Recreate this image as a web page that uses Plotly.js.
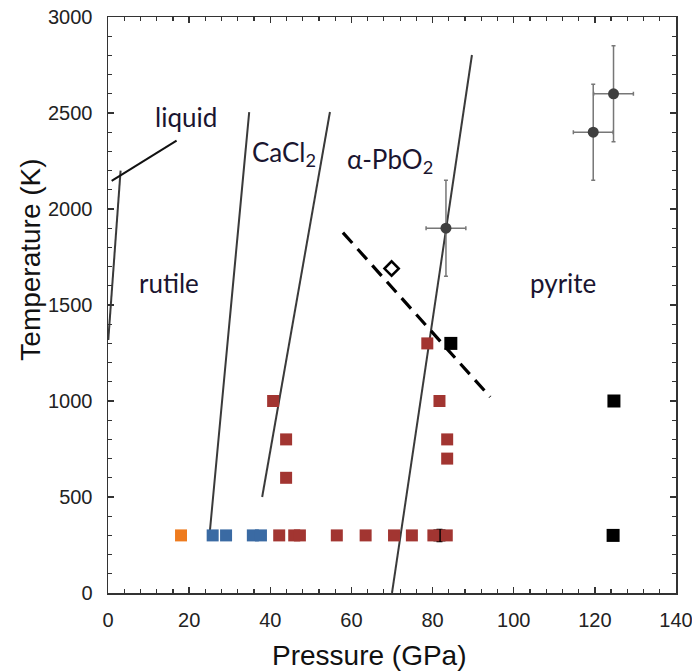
<!DOCTYPE html>
<html>
<head>
<meta charset="utf-8">
<script src="https://cdn.plot.ly/plotly-3.0.1.min.js"></script>
<style>html,body{margin:0;padding:0;background:#fff;}#chart{width:692px;height:671px;}</style>
</head>
<body>
<div id="chart"></div>
<script>
// Data (Pressure GPa, Temperature K)
const redP = [42.2, 45.9, 47.3, 56.4, 63.5, 70.5, 74.9, 80.2, 83.5, 40.7, 43.9, 43.9, 78.7, 81.7, 83.6, 83.6];
const redT = [300, 300, 300, 300, 300, 300, 300, 300, 300, 1000, 800, 600, 1300, 1000, 800, 700];
const blueP = [25.8, 29.1, 35.7, 37.7];
const blueT = [300, 300, 300, 300];
const orangeP = [18.0];
const orangeT = [300];
const blackP = [84.5, 124.7, 124.5];
const blackT = [1300, 1000, 300];
const hiddenP = [81.7];
const hiddenT = [300];
const hiddenErrT = [30];
const circP = [83.3, 119.6, 124.6];
const circT = [1900, 2400, 2600];
const circErrP = [4.9, 4.9, 4.9];
const circErrT = [250, 250, 250];
const diamP = [69.9];
const diamT = [1690];

// Phase boundaries
const meltP = [0.07, 3.1];
const meltT = [1318, 2200];
const liqLabelP = [0.9, 16.9];
const liqLabelT = [2146, 2356];
const rutCaP = [25.1, 34.8];
const rutCaT = [319, 2505];
const caPbP = [38.0, 54.7];
const caPbT = [500, 2505];
const pbPyP = [70.0, 89.7];
const pbPyT = [0, 2802];
const dashP = [57.9, 94.2];
const dashT = [1877, 1021];

// Region labels
const labelText = ['liquid', 'CaCl<sub>2</sub>', 'α-PbO<sub>2</sub>', 'rutile', 'pyrite'];
const labelP = [19.2, 43.3, 69.5, 15.0, 112.2];
const labelT = [2480, 2290, 2255, 1615, 1615];

const lineStyle = {color: '#3a3a3a', width: 2};
const traces = [
  {x: meltP, y: meltT, mode: 'lines', line: lineStyle},
  {x: liqLabelP, y: liqLabelT, mode: 'lines', line: {color: '#111', width: 2}},
  {x: rutCaP, y: rutCaT, mode: 'lines', line: lineStyle},
  {x: caPbP, y: caPbT, mode: 'lines', line: lineStyle},
  {x: pbPyP, y: pbPyT, mode: 'lines', line: lineStyle},
  {x: dashP, y: dashT, mode: 'lines', line: {color: '#000', width: 3.2, dash: '14px,8px'}},
  {x: hiddenP, y: hiddenT, mode: 'markers', marker: {size: 12, color: '#000', symbol: 'square'},
   error_y: {type: 'data', array: hiddenErrT, color: '#000', thickness: 2, width: 3}},
  {x: orangeP, y: orangeT, mode: 'markers', marker: {size: 12, color: '#EE7B1E', symbol: 'square'}},
  {x: blueP, y: blueT, mode: 'markers', marker: {size: 12, color: '#3A6AA3', symbol: 'square'}},
  {x: redP, y: redT, mode: 'markers', marker: {size: 12, color: '#A23531', symbol: 'square'}},
  {x: blackP, y: blackT, mode: 'markers', marker: {size: 13, color: '#000', symbol: 'square'}},
  {x: circP, y: circT, mode: 'markers', marker: {size: 11, color: '#3f3f3f', symbol: 'circle'},
   error_x: {type: 'data', array: circErrP, color: '#777', thickness: 1.5, width: 2},
   error_y: {type: 'data', array: circErrT, color: '#777', thickness: 1.5, width: 2}},
  {x: diamP, y: diamT, mode: 'markers', marker: {size: 11, color: '#fff', symbol: 'diamond', line: {color: '#000', width: 2.5}}}
];
traces.forEach(t => { t.showlegend = false; t.hoverinfo = 'skip'; });

const titleFont = {family: '"Liberation Sans", Arial, sans-serif', size: 28, color: '#111'};
const annotations = labelText.map((t, i) => ({
  x: labelP[i], y: labelT[i], xref: 'x', yref: 'y', text: t, showarrow: false,
  font: {family: 'Lato, "Open Sans", sans-serif', size: 26, color: '#1a1530'}
}));
annotations.push({text: 'Pressure (GPa)', xref: 'paper', yref: 'paper', x: 0.46, y: -0.108,
  xanchor: 'center', yanchor: 'middle', showarrow: false, font: titleFont});
annotations.push({text: 'Temperature (K)', xref: 'paper', yref: 'paper', x: -0.138, y: 0.578,
  xanchor: 'center', yanchor: 'middle', textangle: -90, showarrow: false, font: titleFont});

const axisCommon = {
  showline: true, linecolor: '#333', linewidth: 1.5, mirror: 'ticks',
  ticks: 'inside', ticklen: 6, tickcolor: '#333', tickwidth: 1.5,
  showgrid: false, zeroline: false, fixedrange: true, automargin: false,
  ticklabeloverflow: 'allow',
  tickfont: {family: '"Liberation Sans", Arial, sans-serif', size: 20, color: '#222'}
};

const layout = {
  width: 692, height: 671,
  margin: {l: 108, r: 16, t: 17, b: 78},
  paper_bgcolor: '#fff', plot_bgcolor: '#fff',
  xaxis: Object.assign({}, axisCommon, {
    range: [0, 140], tick0: 0, dtick: 20, ticklabelstandoff: 8,
    minor: {ticks: 'inside', dtick: 4, ticklen: 4, tickcolor: '#333', tickwidth: 1.2, showgrid: false}
  }),
  yaxis: Object.assign({}, axisCommon, {
    range: [0, 3000], tick0: 0, dtick: 500, ticklabelstandoff: 10,
    minor: {ticks: 'inside', dtick: 100, ticklen: 4, tickcolor: '#333', tickwidth: 1.2, showgrid: false}
  }),
  annotations: annotations,
  showlegend: false
};

Plotly.newPlot('chart', traces, layout, {staticPlot: true, displayModeBar: false});
</script>
</body>
</html>
